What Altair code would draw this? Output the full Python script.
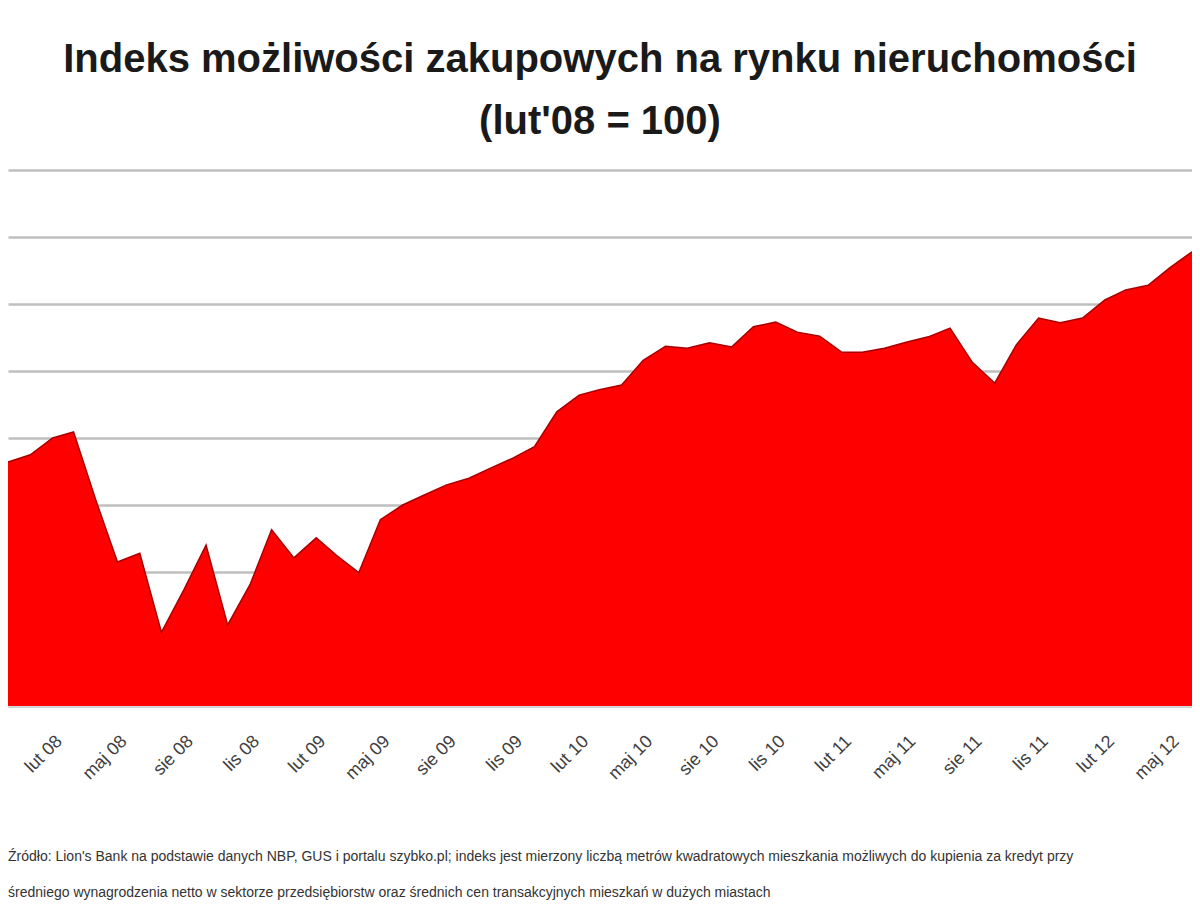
import altair as alt
import pandas as pd

# Monthly observations, Dec 2007 .. Jun 2012 (index, lut'08 = 100)
months = pd.date_range("2007-12-01", "2012-06-01", freq="MS").strftime("%Y-%m-%d").tolist()
values = [
    96.4, 97.5, 100.0, 100.9, 90.7, 81.5, 82.8, 71.0, 77.3, 84.0,
    72.1, 78.1, 86.3, 82.1, 85.1, 82.5, 79.9, 87.8, 90.0, 91.5,
    93.0, 94.0, 95.5, 97.0, 98.7, 103.9, 106.4, 107.2, 107.9, 111.6,
    113.7, 113.4, 114.2, 113.6, 116.6, 117.3, 115.8, 115.2, 112.8, 112.8,
    113.4, 114.3, 115.1, 116.4, 111.3, 108.2, 113.9, 117.9, 117.2, 117.9,
    120.6, 122.1, 122.8, 125.4, 127.8,
]
month_names = ["sty", "lut", "mar", "kwi", "maj", "cze", "lip", "sie", "wrz", "paź", "lis", "gru"]
y_ticks = [60, 70, 80, 90, 100, 110, 120, 130, 140]
y_base = 60

title_lines = ["Indeks możliwości zakupowych na rynku nieruchomości", "(lut'08 = 100)"]
foot_line1 = ("Źródło: Lion's Bank na podstawie danych NBP, GUS i portalu szybko.pl; indeks jest mierzony liczbą metrów "
              "kwadratowych mieszkania możliwych do kupienia za kredyt przy")
foot_line2 = "średniego wynagrodzenia netto w sektorze przedsiębiorstw oraz średnich cen transakcyjnych mieszkań w dużych miastach"

df = pd.DataFrame({"date": months, "value": values})

# quarterly tick positions starting lut'08
tick_dates = pd.date_range("2008-02-01", "2012-05-01", freq="3MS")
tick_values = [alt.DateTime(year=d.year, month=d.month, date=1, utc=True) for d in tick_dates]

month_js = "[" + ",".join("'%s'" % m for m in month_names) + "]"
label_expr = month_js + "[utcmonth(datum.value)] + ' ' + utcFormat(datum.value, '%y')"

area = alt.Chart(df).mark_area(
    color="#FF0000",
    opacity=1,
    line={"color": "#A80000", "strokeWidth": 1.5},
    interpolate="linear",
).encode(
    x=alt.X(
        "date:T",
        scale=alt.Scale(
            type="utc",
            domain=[alt.DateTime(year=2007, month=12, date=1, utc=True),
                    alt.DateTime(year=2012, month=6, date=1, utc=True)],
        ),
        axis=alt.Axis(
            values=tick_values,
            labelExpr=label_expr,
            labelAngle=-45,
            labelFontSize=18,
            labelFont="Liberation Sans",
            labelColor="#404040",
            labelPadding=26,
            ticks=False,
            grid=False,
            domain=True,
            domainColor="#D9D9D9",
            title=None,
        ),
    ),
    y=alt.Y(
        "value:Q",
        scale=alt.Scale(domain=[60, 140], nice=False, zero=False),
        axis=alt.Axis(
            values=y_ticks,
            labels=False,
            ticks=False,
            domain=False,
            grid=True,
            gridColor="#BFBFBF",
            gridWidth=2.5,
            title=None,
        ),
    ),
    y2=alt.datum(y_base),
)

foot1 = alt.Chart(pd.DataFrame({"t": [foot_line1]})).mark_text(
    align="left", baseline="middle", fontSize=14, font="Liberation Sans", color="#333333"
).encode(text="t:N", x=alt.value(0), y=alt.value(687))

foot2 = alt.Chart(pd.DataFrame({"t": [foot_line2]})).mark_text(
    align="left", baseline="middle", fontSize=14, font="Liberation Sans", color="#333333"
).encode(text="t:N", x=alt.value(0), y=alt.value(723))

chart = alt.layer(area, foot1, foot2).properties(
    width=1184,
    height=536,
    title=alt.TitleParams(
        text=title_lines,
        fontSize=40,
        font="Liberation Sans",
        fontWeight="bold",
        color="#1A1A1A",
        anchor="middle",
        lineHeight=62,
        offset=28,
    ),
    autosize=alt.AutoSizeParams(type="none"),
    padding={"left": 0, "top": 162, "right": 0, "bottom": 200},
    background="white",
).configure_view(stroke=None)

chart.save("out.html", embed_options={"renderer": "svg", "actions": False})
